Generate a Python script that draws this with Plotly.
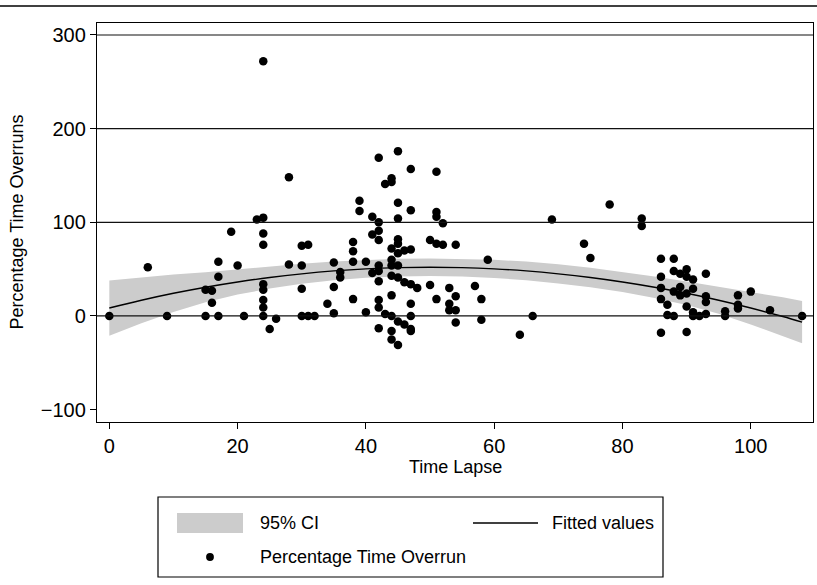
import plotly.graph_objects as go

# ---------------- data ----------------
time_lapse = [0, 6, 9, 15, 15, 16, 16, 17, 17, 17, 19, 20, 21, 23,
              24, 24, 24, 24, 24, 24, 24, 24, 24, 25, 26, 28, 28,
              30, 31, 30, 30, 30, 31, 32, 34, 35, 35, 35, 36, 36,
              38, 38, 38, 38, 39, 39, 40, 40, 41, 41, 41,
              42, 42, 42, 42, 42, 42, 42, 42, 42, 42, 43, 43,
              44, 44, 44, 44, 44, 44, 44, 44, 44, 44,
              45, 45, 45, 45, 45, 45, 45, 45, 45, 45,
              46, 47, 46, 46, 47, 47, 47, 48, 47, 47, 47, 47,
              50, 50, 51, 51, 51, 52, 51, 52, 54, 51, 53, 53, 53, 54, 54, 54,
              57, 58, 58, 59, 64, 66, 69, 74, 75, 78, 83, 83,
              86, 88, 88, 89, 90, 90, 91, 93, 86, 86, 89, 88, 89, 90, 91,
              86, 87, 87, 88, 90, 91, 91, 92, 93, 93, 93, 96, 96, 86, 90,
              98, 98, 98, 100, 103, 108]
overrun = [0, 52, 0, 0, 28, 27, 14, 0, 42, 58, 90, 54, 0, 103,
           105, 88, 76, 34, 28, 17, 9, 0, 272, -14, -3, 148, 55,
           75, 76, 54, 29, 0, 0, 0, 13, 3, 57, 31, 47, 41,
           79, 69, 58, 18, 123, 112, 58, 4, 106, 87, 46,
           169, 100, 91, 81, 54, 48, 37, 17, 9, -13, 141, 2,
           147, 143, 72, 60, 54, 43, 22, 0, -16, -25,
           176, 121, 104, 82, 77, 67, 54, 41, -6, -31,
           70, 71, 36, -9, 157, 113, 34, 30, 13, 0, -14, -16,
           81, 33, 154, 111, 106, 99, 77, 76, 76, 18, 30, 13, 6, 21, 6, -7,
           32, 18, -4, 60, -20, 0, 103, 77, 62, 119, 104, 96,
           61, 61, 48, 45, 50, 42, 39, 45, 42, 30, 31, 26, 22, 24, 29,
           18, 12, 1, 0, 10, 4, 0, 0, 21, 15, 2, 5, 0, -18, -17,
           22, 12, 8, 26, 6, 0]

fit_x = [0, 5, 10, 15, 20, 25, 30, 35, 40, 45, 50, 55, 60, 65, 70,
         75, 80, 85, 90, 95, 100, 105, 108]
fit_y = [8.5, 16.8, 24.2, 30.7, 36.3, 41.1, 45.0, 48.1, 50.3, 51.6, 52.0,
         51.6, 50.3, 48.1, 45.0, 41.1, 36.3, 30.7, 24.2, 16.8, 8.5, -0.6, -6.6]
ci_upper = [38.0, 41.3, 44.2, 46.7, 49.8, 52.9, 55.7, 58.1, 59.9, 61.0, 61.4,
            61.1, 60.0, 58.1, 55.3, 51.6, 47.1, 42.1, 36.7, 31.3, 26.0, 19.9, 15.9]
ci_lower = [-21.0, -7.7, 4.2, 14.7, 22.8, 29.3, 34.3, 38.1, 40.7, 42.2, 42.6,
            42.1, 40.6, 38.1, 34.7, 30.6, 25.5, 19.3, 11.7, 2.3, -9.0, -21.1, -29.1]

x_ticks = [0, 20, 40, 60, 80, 100]
y_ticks = [-100, 0, 100, 200, 300]
y_grid = [0, 100, 200, 300]

# ---------------- geometry helpers ----------------
W, H = 817, 585
L, R, T, B = 97, 813, 23, 422   # plot area in pixels
FONT = "Liberation Sans, Arial, Helvetica, sans-serif"


def px(xp):
    return (xp - L) / (R - L)


def py(yp):
    return (B - yp) / (B - T)


fig = go.Figure()

# CI band
fig.add_trace(go.Scatter(x=fit_x, y=ci_lower, mode="lines",
                         line=dict(width=0, color="#cccccc"),
                         showlegend=False, hoverinfo="skip"))
fig.add_trace(go.Scatter(x=fit_x, y=ci_upper, mode="lines", fill="tonexty",
                         fillcolor="#cccccc", line=dict(width=0, color="#cccccc"),
                         name="95% CI", showlegend=False))
# scatter
fig.add_trace(go.Scatter(x=time_lapse, y=overrun, mode="markers",
                         marker=dict(size=8.5, color="black"),
                         name="Percentage Time Overrun", showlegend=False))
# fitted line
fig.add_trace(go.Scatter(x=fit_x, y=fit_y, mode="lines",
                         line=dict(color="black", width=1.4, shape="spline"),
                         name="Fitted values", showlegend=False))

shapes = []
# horizontal grid lines (drawn over the band like the original)
for g in y_grid:
    shapes.append(dict(type="line", xref="paper", yref="y", x0=0, x1=1,
                       y0=g, y1=g, line=dict(color="#111111", width=1.2),
                       layer="above"))
# top rule across the whole figure
shapes.append(dict(type="line", xref="paper", yref="paper",
                   x0=px(0), x1=px(W), y0=py(6), y1=py(6),
                   line=dict(color="black", width=1.3)))
# legend frame
shapes.append(dict(type="rect", xref="paper", yref="paper",
                   x0=px(158), x1=px(663), y0=py(577), y1=py(497),
                   line=dict(color="black", width=1.2), fillcolor="white"))
# legend swatch for CI
shapes.append(dict(type="rect", xref="paper", yref="paper",
                   x0=px(177), x1=px(243), y0=py(533), y1=py(513),
                   line=dict(width=0), fillcolor="#cccccc"))
# legend line for fitted values
shapes.append(dict(type="line", xref="paper", yref="paper",
                   x0=px(473), x1=px(538), y0=py(523), y1=py(523),
                   line=dict(color="black", width=1.4)))
# legend marker
rr = 3.9
shapes.append(dict(type="circle", xref="paper", yref="paper",
                   x0=px(210 - rr), x1=px(210 + rr), y0=py(557 + rr), y1=py(557 - rr),
                   line=dict(width=0), fillcolor="black"))

annotations = [
    dict(text="95% CI", xref="paper", yref="paper", x=px(258), y=py(523),
         xanchor="left", yanchor="middle", showarrow=False,
         font=dict(size=18, color="black", family=FONT)),
    dict(text="Fitted values", xref="paper", yref="paper", x=px(550), y=py(523),
         xanchor="left", yanchor="middle", showarrow=False,
         font=dict(size=18, color="black", family=FONT)),
    dict(text="Percentage Time Overrun", xref="paper", yref="paper", x=px(258), y=py(557),
         xanchor="left", yanchor="middle", showarrow=False,
         font=dict(size=18, color="black", family=FONT)),
    dict(text="Time Lapse", xref="paper", yref="paper", x=0.5, y=py(467),
         xanchor="center", yanchor="middle", showarrow=False,
         font=dict(size=18, color="black", family=FONT)),
    dict(text="Percentage Time Overruns", xref="paper", yref="paper", x=px(16), y=0.5,
         xanchor="center", yanchor="middle", showarrow=False, textangle=-90,
         font=dict(size=18, color="black", family=FONT)),
]

fig.update_layout(
    width=W, height=H,
    margin=dict(l=L, r=W - R, t=T, b=H - B, pad=0),
    paper_bgcolor="white", plot_bgcolor="white",
    font=dict(family=FONT, size=18, color="black"),
    showlegend=False,
    shapes=shapes,
    annotations=annotations,
    xaxis=dict(range=[-1.92, 109.7], tickvals=x_ticks, ticks="outside", ticklen=6,
               tickcolor="black", tickwidth=1.1, showgrid=False, zeroline=False,
               showline=True, linecolor="black", linewidth=1.3, mirror=True,
               tickfont=dict(size=20, family=FONT, color="black")),
    yaxis=dict(range=[-113.2, 312.8], tickvals=y_ticks, ticks="outside", ticklen=6,
               tickcolor="black", tickwidth=1.1, showgrid=False, zeroline=False,
               showline=True, linecolor="black", linewidth=1.3, mirror=True,
               tickfont=dict(size=20, family=FONT, color="black")),
)

fig.write_html("out.html")
